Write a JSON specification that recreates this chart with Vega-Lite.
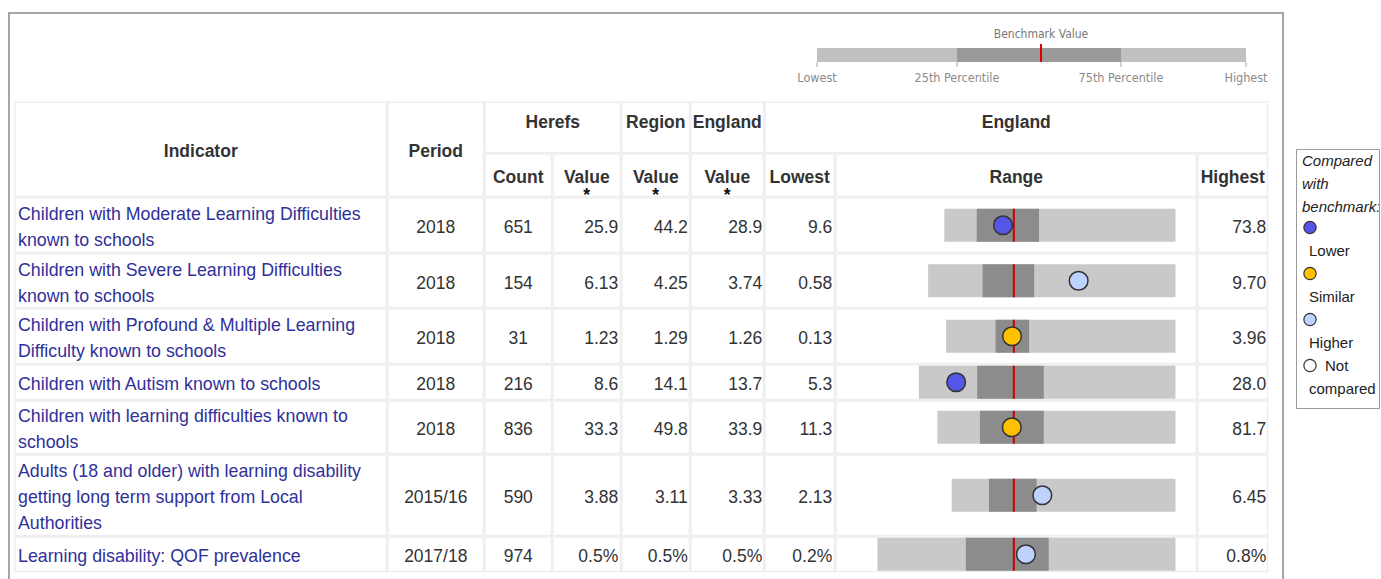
{
  "$schema": "https://vega.github.io/schema/vega-lite/v6.json",
  "padding": {"left": 8, "top": 12, "right": 0, "bottom": 0},
  "background": "white",
  "data": {"values": [{}]},
  "datasets": {
    "rows": [
      {"ind": 1, "name": ["Children with Moderate Learning Difficulties", "known to schools"], "period": "2018", "count": "651", "value": "25.9", "region": "44.2", "england": "28.9", "lowest": "9.6", "highest": "73.8", "cmp": "Lower", "lo": 9.6, "q25": 18.6, "eng": 28.9, "q75": 35.9, "hi": 73.8, "val": 25.9},
      {"ind": 2, "name": ["Children with Severe Learning Difficulties", "known to schools"], "period": "2018", "count": "154", "value": "6.13", "region": "4.25", "england": "3.74", "lowest": "0.58", "highest": "9.70", "cmp": "Higher", "lo": 0.58, "q25": 2.59, "eng": 3.74, "q75": 4.49, "hi": 9.7, "val": 6.13},
      {"ind": 3, "name": ["Children with Profound & Multiple Learning", "Difficulty known to schools"], "period": "2018", "count": "31", "value": "1.23", "region": "1.29", "england": "1.26", "lowest": "0.13", "highest": "3.96", "cmp": "Similar", "lo": 0.13, "q25": 0.955, "eng": 1.26, "q75": 1.515, "hi": 3.96, "val": 1.23},
      {"ind": 4, "name": ["Children with Autism known to schools"], "period": "2018", "count": "216", "value": "8.6", "region": "14.1", "england": "13.7", "lowest": "5.3", "highest": "28.0", "cmp": "Lower", "lo": 5.3, "q25": 10.46, "eng": 13.7, "q75": 16.35, "hi": 28.0, "val": 8.6},
      {"ind": 5, "name": ["Children with learning difficulties known to", "schools"], "period": "2018", "count": "836", "value": "33.3", "region": "49.8", "england": "33.9", "lowest": "11.3", "highest": "81.7", "cmp": "Similar", "lo": 11.3, "q25": 23.87, "eng": 33.9, "q75": 42.75, "hi": 81.7, "val": 33.3},
      {"ind": 6, "name": ["Adults (18 and older) with learning disability", "getting long term support from Local", "Authorities"], "period": "2015/16", "count": "590", "value": "3.88", "region": "3.11", "england": "3.33", "lowest": "2.13", "highest": "6.45", "cmp": "Higher", "lo": 2.13, "q25": 2.85, "eng": 3.33, "q75": 3.77, "hi": 6.45, "val": 3.88},
      {"ind": 7, "name": ["Learning disability: QOF prevalence"], "period": "2017/18", "count": "974", "value": "0.5%", "region": "0.5%", "england": "0.5%", "lowest": "0.2%", "highest": "0.8%", "cmp": "Higher", "lo": 0.21, "q25": 0.385, "eng": 0.48, "q75": 0.549, "hi": 0.8, "val": 0.504}
    ],
    "keyseg": [
      {"from": 0, "to": 25, "band": "outer"},
      {"from": 25, "to": 75, "band": "inner"},
      {"from": 75, "to": 100, "band": "outer"}
    ],
    "keylab": [
      {"p": 0, "label": "Lowest"},
      {"p": 25, "label": "25th Percentile"},
      {"p": 75, "label": "75th Percentile"},
      {"p": 100, "label": "Highest"}
    ],
    "keybench": [{"p": 50, "label": "Benchmark Value"}],
    "legend": [
      {"item": "Lower", "top": "", "bottom": "Lower"},
      {"item": "Similar", "top": "", "bottom": "Similar"},
      {"item": "Higher", "top": "", "bottom": "Higher"},
      {"item": "Not compared", "top": "Not", "bottom": "compared"}
    ]
  },
  "config": {
    "view": {"stroke": "#eeeeee", "strokeWidth": 1.5},
    "concat": {"spacing": 0},
    "font": "Liberation Sans",
    "text": {"font": "Liberation Sans", "fontSize": 17.5, "color": "#333333", "dy": 3}
  },
  "hconcat": [
    {"width": 2, "height": 567, "data": {"values": []}, "view": {"fill": "#a6a6a6", "stroke": null}, "mark": "point", "encoding": {}},
    {
      "vconcat": [
        {"width": 1272, "height": 2, "data": {"values": []}, "view": {"fill": "#a6a6a6", "stroke": null}, "mark": "point", "encoding": {}},
        {
          "width": 1272, "height": 86.5, "view": {"stroke": null},
          "layer": [
            {"data": {"name": "keyseg"}, "mark": {"type": "bar", "size": 14, "yOffset": -2.25},
             "encoding": {"x": {"field": "from", "type": "quantitative", "axis": null, "scale": {"domain": [0, 25, 50, 75, 100], "range": [807, 947, 1031, 1111, 1236]}}, "x2": {"field": "to"},
                          "color": {"field": "band", "type": "nominal", "scale": {"domain": ["outer", "inner"], "range": ["#c0c0c0", "#9a9a9a"]}, "legend": null}}},
            {"data": {"name": "keylab"}, "mark": {"type": "tick", "size": 5, "thickness": 1, "color": "#a8a8a8", "opacity": 1, "yOffset": 7.25},
             "encoding": {"x": {"field": "p", "type": "quantitative"}}},
            {"data": {"name": "keylab"}, "mark": {"type": "text", "dy": 20.5, "color": "#8a8a8a", "font": "DejaVu Sans Condensed", "fontSize": 12.5},
             "encoding": {"x": {"field": "p", "type": "quantitative"}, "text": {"field": "label", "type": "nominal"}}},
            {"data": {"name": "keybench"}, "mark": {"type": "tick", "size": 18, "thickness": 2, "color": "#e00000", "opacity": 1, "yOffset": -4.25},
             "encoding": {"x": {"field": "p", "type": "quantitative"}}},
            {"data": {"name": "keybench"}, "mark": {"type": "text", "dy": -23.5, "color": "#777777", "font": "DejaVu Sans Condensed", "fontSize": 12},
             "encoding": {"x": {"field": "p", "type": "quantitative"}, "text": {"field": "label", "type": "nominal"}}}
          ]
        },
        {
          "spacing": -1.5,
          "vconcat": [
            {
              "spacing": -1.5,
              "hconcat": [
                {"width": 5, "height": 96, "data": {"values": []}, "view": {"stroke": null}, "mark": "point", "encoding": {}},
                {"width": 371.5, "height": 94.5, "layer": [{"mark": {"type": "text", "fontWeight": "bold"}, "encoding": {"y": {"datum": "h", "type": "nominal", "axis": null}, "text": {"value": "Indicator"}}}]},
                {"width": 95.5, "height": 94.5, "layer": [{"mark": {"type": "text", "fontWeight": "bold"}, "encoding": {"y": {"datum": "h", "type": "nominal", "axis": null}, "text": {"value": "Period"}}}]},
                {"spacing": -1.5, "vconcat": [
                  {"width": 135.5, "height": 50.5, "layer": [{"mark": {"type": "text", "fontWeight": "bold", "dy": -4}, "encoding": {"y": {"datum": "h", "type": "nominal", "axis": null}, "text": {"value": "Herefs"}}}]},
                  {"spacing": -1.5, "hconcat": [
                    {"width": 66.5, "height": 42.5, "layer": [{"mark": {"type": "text", "fontWeight": "bold"}, "encoding": {"y": {"datum": "h", "type": "nominal", "axis": null}, "text": {"value": "Count"}}}]},
                    {"width": 67.5, "height": 42.5, "layer": [
                      {"mark": {"type": "text", "fontWeight": "bold"}, "encoding": {"y": {"datum": "h", "type": "nominal", "axis": null}, "text": {"value": "Value"}}},
                      {"mark": {"type": "text", "fontWeight": "bold", "color": "#111111", "dy": 21, "clip": true}, "encoding": {"y": {"datum": "h", "type": "nominal", "axis": null}, "text": {"value": "*"}}}
                    ]}
                  ]}
                ]},
                {"spacing": -1.5, "vconcat": [
                  {"width": 67.5, "height": 50.5, "layer": [{"mark": {"type": "text", "fontWeight": "bold", "dy": -4}, "encoding": {"y": {"datum": "h", "type": "nominal", "axis": null}, "text": {"value": "Region"}}}]},
                  {"width": 67.5, "height": 42.5, "layer": [
                    {"mark": {"type": "text", "fontWeight": "bold"}, "encoding": {"y": {"datum": "h", "type": "nominal", "axis": null}, "text": {"value": "Value"}}},
                    {"mark": {"type": "text", "fontWeight": "bold", "color": "#111111", "dy": 21, "clip": true}, "encoding": {"y": {"datum": "h", "type": "nominal", "axis": null}, "text": {"value": "*"}}}
                  ]}
                ]},
                {"spacing": -1.5, "vconcat": [
                  {"width": 72.5, "height": 50.5, "layer": [{"mark": {"type": "text", "fontWeight": "bold", "dy": -4}, "encoding": {"y": {"datum": "h", "type": "nominal", "axis": null}, "text": {"value": "England"}}}]},
                  {"width": 72.5, "height": 42.5, "layer": [
                    {"mark": {"type": "text", "fontWeight": "bold"}, "encoding": {"y": {"datum": "h", "type": "nominal", "axis": null}, "text": {"value": "Value"}}},
                    {"mark": {"type": "text", "fontWeight": "bold", "color": "#111111", "dy": 21, "clip": true}, "encoding": {"y": {"datum": "h", "type": "nominal", "axis": null}, "text": {"value": "*"}}}
                  ]}
                ]},
                {"spacing": -1.5, "vconcat": [
                  {"width": 502.5, "height": 50.5, "layer": [{"mark": {"type": "text", "fontWeight": "bold", "dy": -4}, "encoding": {"y": {"datum": "h", "type": "nominal", "axis": null}, "text": {"value": "England"}}}]},
                  {"spacing": -1.5, "hconcat": [
                    {"width": 69.5, "height": 42.5, "layer": [{"mark": {"type": "text", "fontWeight": "bold"}, "encoding": {"y": {"datum": "h", "type": "nominal", "axis": null}, "text": {"value": "Lowest"}}}]},
                    {"width": 360.5, "height": 42.5, "layer": [{"mark": {"type": "text", "fontWeight": "bold"}, "encoding": {"y": {"datum": "h", "type": "nominal", "axis": null}, "text": {"value": "Range"}}}]},
                    {"width": 69.5, "height": 42.5, "layer": [{"mark": {"type": "text", "fontWeight": "bold"}, "encoding": {"y": {"datum": "h", "type": "nominal", "axis": null}, "text": {"value": "Highest"}}}]}
                  ]}
                ]}
              ]
            },
            {
              "spacing": -1.5,
              "hconcat": [
                {"width": 5, "height": 375, "data": {"values": []}, "view": {"stroke": null}, "mark": "point", "encoding": {}},
                {
                  "data": {"name": "rows"},
                  "transform": [
                    {"calculate": "max(datum.hi - datum.eng, datum.eng - datum.lo)", "as": "h"},
                    {"calculate": "(datum.lo - datum.eng) / datum.h", "as": "nlo"},
                    {"calculate": "(datum.q25 - datum.eng) / datum.h", "as": "nq25"},
                    {"calculate": "(datum.q75 - datum.eng) / datum.h", "as": "nq75"},
                    {"calculate": "(datum.hi - datum.eng) / datum.h", "as": "nhi"},
                    {"calculate": "(datum.val - datum.eng) / datum.h", "as": "nval"}
                  ],
                  "spacing": -1.5,
                  "vconcat": [
                    {"transform": [{"filter": "datum.ind == 1"}], "spacing": -1.5, "hconcat": [
                      {"width": 371.5, "height": 54.5, "layer": [{"mark": {"type": "text", "align": "left", "dx": -182.75, "dy": -10, "lineHeight": 26, "lineBreak": "\n", "fontSize": 17.8, "color": "#30309a", "clip": true}, "encoding": {"y": {"field": "ind", "type": "nominal", "axis": null}, "text": {"field": "name", "type": "nominal"}}}]},
                      {"width": 95.5, "height": 54.5, "layer": [{"mark": {"type": "text"}, "encoding": {"y": {"field": "ind", "type": "nominal", "axis": null}, "text": {"field": "period", "type": "nominal"}}}]},
                      {"width": 66.5, "height": 54.5, "layer": [{"mark": {"type": "text"}, "encoding": {"y": {"field": "ind", "type": "nominal", "axis": null}, "text": {"field": "count", "type": "nominal"}}}]},
                      {"width": 67.5, "height": 54.5, "layer": [{"mark": {"type": "text", "align": "right", "dx": 31.5}, "encoding": {"y": {"field": "ind", "type": "nominal", "axis": null}, "text": {"field": "value", "type": "nominal"}}}]},
                      {"width": 67.5, "height": 54.5, "layer": [{"mark": {"type": "text", "align": "right", "dx": 32}, "encoding": {"y": {"field": "ind", "type": "nominal", "axis": null}, "text": {"field": "region", "type": "nominal"}}}]},
                      {"width": 72.5, "height": 54.5, "layer": [{"mark": {"type": "text", "align": "right", "dx": 35}, "encoding": {"y": {"field": "ind", "type": "nominal", "axis": null}, "text": {"field": "england", "type": "nominal"}}}]},
                      {"width": 69.5, "height": 54.5, "layer": [{"mark": {"type": "text", "align": "right", "dx": 32.5}, "encoding": {"y": {"field": "ind", "type": "nominal", "axis": null}, "text": {"field": "lowest", "type": "nominal"}}}]},
                      {"width": 360.5, "height": 54.5, "layer": [
                        {"mark": {"type": "bar", "size": 33, "color": "#c9c9c9"}, "encoding": {"x": {"field": "nlo", "type": "quantitative", "axis": null, "scale": {"domain": [-1.1, 1.13]}}, "x2": {"field": "nhi"}}},
                        {"mark": {"type": "bar", "size": 33, "color": "#8c8c8c"}, "encoding": {"x": {"field": "nq25", "type": "quantitative", "axis": null, "scale": {"domain": [-1.1, 1.13]}}, "x2": {"field": "nq75"}}},
                        {"mark": {"type": "tick", "size": 33, "thickness": 2, "color": "#cc0000", "opacity": 1}, "encoding": {"x": {"datum": 0, "type": "quantitative", "axis": null, "scale": {"domain": [-1.1, 1.13]}}}},
                        {"mark": {"type": "point", "filled": true, "size": 350, "stroke": "#333333", "strokeWidth": 1.5, "opacity": 1}, "encoding": {"x": {"field": "nval", "type": "quantitative", "axis": null, "scale": {"domain": [-1.1, 1.13]}}, "fill": {"field": "cmp", "type": "nominal", "scale": {"domain": ["Lower", "Similar", "Higher", "Not compared"], "range": ["#5555e6", "#ffc000", "#bed2ff", "#ffffff"]}, "legend": null}}}
                      ]},
                      {"width": 69.5, "height": 54.5, "layer": [{"mark": {"type": "text", "align": "right", "dx": 33.5}, "encoding": {"y": {"field": "ind", "type": "nominal", "axis": null}, "text": {"field": "highest", "type": "nominal"}}}]}
                    ]},
                    {"transform": [{"filter": "datum.ind == 2"}], "spacing": -1.5, "hconcat": [
                      {"width": 371.5, "height": 53.5, "layer": [{"mark": {"type": "text", "align": "left", "dx": -182.75, "dy": -10, "lineHeight": 26, "lineBreak": "\n", "fontSize": 17.8, "color": "#30309a", "clip": true}, "encoding": {"y": {"field": "ind", "type": "nominal", "axis": null}, "text": {"field": "name", "type": "nominal"}}}]},
                      {"width": 95.5, "height": 53.5, "layer": [{"mark": {"type": "text"}, "encoding": {"y": {"field": "ind", "type": "nominal", "axis": null}, "text": {"field": "period", "type": "nominal"}}}]},
                      {"width": 66.5, "height": 53.5, "layer": [{"mark": {"type": "text"}, "encoding": {"y": {"field": "ind", "type": "nominal", "axis": null}, "text": {"field": "count", "type": "nominal"}}}]},
                      {"width": 67.5, "height": 53.5, "layer": [{"mark": {"type": "text", "align": "right", "dx": 31.5}, "encoding": {"y": {"field": "ind", "type": "nominal", "axis": null}, "text": {"field": "value", "type": "nominal"}}}]},
                      {"width": 67.5, "height": 53.5, "layer": [{"mark": {"type": "text", "align": "right", "dx": 32}, "encoding": {"y": {"field": "ind", "type": "nominal", "axis": null}, "text": {"field": "region", "type": "nominal"}}}]},
                      {"width": 72.5, "height": 53.5, "layer": [{"mark": {"type": "text", "align": "right", "dx": 35}, "encoding": {"y": {"field": "ind", "type": "nominal", "axis": null}, "text": {"field": "england", "type": "nominal"}}}]},
                      {"width": 69.5, "height": 53.5, "layer": [{"mark": {"type": "text", "align": "right", "dx": 32.5}, "encoding": {"y": {"field": "ind", "type": "nominal", "axis": null}, "text": {"field": "lowest", "type": "nominal"}}}]},
                      {"width": 360.5, "height": 53.5, "layer": [
                        {"mark": {"type": "bar", "size": 33, "color": "#c9c9c9"}, "encoding": {"x": {"field": "nlo", "type": "quantitative", "axis": null, "scale": {"domain": [-1.1, 1.13]}}, "x2": {"field": "nhi"}}},
                        {"mark": {"type": "bar", "size": 33, "color": "#8c8c8c"}, "encoding": {"x": {"field": "nq25", "type": "quantitative", "axis": null, "scale": {"domain": [-1.1, 1.13]}}, "x2": {"field": "nq75"}}},
                        {"mark": {"type": "tick", "size": 33, "thickness": 2, "color": "#cc0000", "opacity": 1}, "encoding": {"x": {"datum": 0, "type": "quantitative", "axis": null, "scale": {"domain": [-1.1, 1.13]}}}},
                        {"mark": {"type": "point", "filled": true, "size": 350, "stroke": "#333333", "strokeWidth": 1.5, "opacity": 1}, "encoding": {"x": {"field": "nval", "type": "quantitative", "axis": null, "scale": {"domain": [-1.1, 1.13]}}, "fill": {"field": "cmp", "type": "nominal", "scale": {"domain": ["Lower", "Similar", "Higher", "Not compared"], "range": ["#5555e6", "#ffc000", "#bed2ff", "#ffffff"]}, "legend": null}}}
                      ]},
                      {"width": 69.5, "height": 53.5, "layer": [{"mark": {"type": "text", "align": "right", "dx": 33.5}, "encoding": {"y": {"field": "ind", "type": "nominal", "axis": null}, "text": {"field": "highest", "type": "nominal"}}}]}
                    ]},
                    {"transform": [{"filter": "datum.ind == 3"}], "spacing": -1.5, "hconcat": [
                      {"width": 371.5, "height": 54.5, "layer": [{"mark": {"type": "text", "align": "left", "dx": -182.75, "dy": -10, "lineHeight": 26, "lineBreak": "\n", "fontSize": 17.8, "color": "#30309a", "clip": true}, "encoding": {"y": {"field": "ind", "type": "nominal", "axis": null}, "text": {"field": "name", "type": "nominal"}}}]},
                      {"width": 95.5, "height": 54.5, "layer": [{"mark": {"type": "text"}, "encoding": {"y": {"field": "ind", "type": "nominal", "axis": null}, "text": {"field": "period", "type": "nominal"}}}]},
                      {"width": 66.5, "height": 54.5, "layer": [{"mark": {"type": "text"}, "encoding": {"y": {"field": "ind", "type": "nominal", "axis": null}, "text": {"field": "count", "type": "nominal"}}}]},
                      {"width": 67.5, "height": 54.5, "layer": [{"mark": {"type": "text", "align": "right", "dx": 31.5}, "encoding": {"y": {"field": "ind", "type": "nominal", "axis": null}, "text": {"field": "value", "type": "nominal"}}}]},
                      {"width": 67.5, "height": 54.5, "layer": [{"mark": {"type": "text", "align": "right", "dx": 32}, "encoding": {"y": {"field": "ind", "type": "nominal", "axis": null}, "text": {"field": "region", "type": "nominal"}}}]},
                      {"width": 72.5, "height": 54.5, "layer": [{"mark": {"type": "text", "align": "right", "dx": 35}, "encoding": {"y": {"field": "ind", "type": "nominal", "axis": null}, "text": {"field": "england", "type": "nominal"}}}]},
                      {"width": 69.5, "height": 54.5, "layer": [{"mark": {"type": "text", "align": "right", "dx": 32.5}, "encoding": {"y": {"field": "ind", "type": "nominal", "axis": null}, "text": {"field": "lowest", "type": "nominal"}}}]},
                      {"width": 360.5, "height": 54.5, "layer": [
                        {"mark": {"type": "bar", "size": 33, "color": "#c9c9c9"}, "encoding": {"x": {"field": "nlo", "type": "quantitative", "axis": null, "scale": {"domain": [-1.1, 1.13]}}, "x2": {"field": "nhi"}}},
                        {"mark": {"type": "bar", "size": 33, "color": "#8c8c8c"}, "encoding": {"x": {"field": "nq25", "type": "quantitative", "axis": null, "scale": {"domain": [-1.1, 1.13]}}, "x2": {"field": "nq75"}}},
                        {"mark": {"type": "tick", "size": 33, "thickness": 2, "color": "#cc0000", "opacity": 1}, "encoding": {"x": {"datum": 0, "type": "quantitative", "axis": null, "scale": {"domain": [-1.1, 1.13]}}}},
                        {"mark": {"type": "point", "filled": true, "size": 350, "stroke": "#333333", "strokeWidth": 1.5, "opacity": 1}, "encoding": {"x": {"field": "nval", "type": "quantitative", "axis": null, "scale": {"domain": [-1.1, 1.13]}}, "fill": {"field": "cmp", "type": "nominal", "scale": {"domain": ["Lower", "Similar", "Higher", "Not compared"], "range": ["#5555e6", "#ffc000", "#bed2ff", "#ffffff"]}, "legend": null}}}
                      ]},
                      {"width": 69.5, "height": 54.5, "layer": [{"mark": {"type": "text", "align": "right", "dx": 33.5}, "encoding": {"y": {"field": "ind", "type": "nominal", "axis": null}, "text": {"field": "highest", "type": "nominal"}}}]}
                    ]},
                    {"transform": [{"filter": "datum.ind == 4"}], "spacing": -1.5, "hconcat": [
                      {"width": 371.5, "height": 34.5, "layer": [{"mark": {"type": "text", "align": "left", "dx": -182.75, "lineHeight": 26, "lineBreak": "\n", "fontSize": 17.8, "color": "#30309a", "clip": true}, "encoding": {"y": {"field": "ind", "type": "nominal", "axis": null}, "text": {"field": "name", "type": "nominal"}}}]},
                      {"width": 95.5, "height": 34.5, "layer": [{"mark": {"type": "text"}, "encoding": {"y": {"field": "ind", "type": "nominal", "axis": null}, "text": {"field": "period", "type": "nominal"}}}]},
                      {"width": 66.5, "height": 34.5, "layer": [{"mark": {"type": "text"}, "encoding": {"y": {"field": "ind", "type": "nominal", "axis": null}, "text": {"field": "count", "type": "nominal"}}}]},
                      {"width": 67.5, "height": 34.5, "layer": [{"mark": {"type": "text", "align": "right", "dx": 31.5}, "encoding": {"y": {"field": "ind", "type": "nominal", "axis": null}, "text": {"field": "value", "type": "nominal"}}}]},
                      {"width": 67.5, "height": 34.5, "layer": [{"mark": {"type": "text", "align": "right", "dx": 32}, "encoding": {"y": {"field": "ind", "type": "nominal", "axis": null}, "text": {"field": "region", "type": "nominal"}}}]},
                      {"width": 72.5, "height": 34.5, "layer": [{"mark": {"type": "text", "align": "right", "dx": 35}, "encoding": {"y": {"field": "ind", "type": "nominal", "axis": null}, "text": {"field": "england", "type": "nominal"}}}]},
                      {"width": 69.5, "height": 34.5, "layer": [{"mark": {"type": "text", "align": "right", "dx": 32.5}, "encoding": {"y": {"field": "ind", "type": "nominal", "axis": null}, "text": {"field": "lowest", "type": "nominal"}}}]},
                      {"width": 360.5, "height": 34.5, "layer": [
                        {"mark": {"type": "bar", "size": 33, "color": "#c9c9c9"}, "encoding": {"x": {"field": "nlo", "type": "quantitative", "axis": null, "scale": {"domain": [-1.1, 1.13]}}, "x2": {"field": "nhi"}}},
                        {"mark": {"type": "bar", "size": 33, "color": "#8c8c8c"}, "encoding": {"x": {"field": "nq25", "type": "quantitative", "axis": null, "scale": {"domain": [-1.1, 1.13]}}, "x2": {"field": "nq75"}}},
                        {"mark": {"type": "tick", "size": 33, "thickness": 2, "color": "#cc0000", "opacity": 1}, "encoding": {"x": {"datum": 0, "type": "quantitative", "axis": null, "scale": {"domain": [-1.1, 1.13]}}}},
                        {"mark": {"type": "point", "filled": true, "size": 350, "stroke": "#333333", "strokeWidth": 1.5, "opacity": 1}, "encoding": {"x": {"field": "nval", "type": "quantitative", "axis": null, "scale": {"domain": [-1.1, 1.13]}}, "fill": {"field": "cmp", "type": "nominal", "scale": {"domain": ["Lower", "Similar", "Higher", "Not compared"], "range": ["#5555e6", "#ffc000", "#bed2ff", "#ffffff"]}, "legend": null}}}
                      ]},
                      {"width": 69.5, "height": 34.5, "layer": [{"mark": {"type": "text", "align": "right", "dx": 33.5}, "encoding": {"y": {"field": "ind", "type": "nominal", "axis": null}, "text": {"field": "highest", "type": "nominal"}}}]}
                    ]},
                    {"transform": [{"filter": "datum.ind == 5"}], "spacing": -1.5, "hconcat": [
                      {"width": 371.5, "height": 52.5, "layer": [{"mark": {"type": "text", "align": "left", "dx": -182.75, "dy": -10, "lineHeight": 26, "lineBreak": "\n", "fontSize": 17.8, "color": "#30309a", "clip": true}, "encoding": {"y": {"field": "ind", "type": "nominal", "axis": null}, "text": {"field": "name", "type": "nominal"}}}]},
                      {"width": 95.5, "height": 52.5, "layer": [{"mark": {"type": "text"}, "encoding": {"y": {"field": "ind", "type": "nominal", "axis": null}, "text": {"field": "period", "type": "nominal"}}}]},
                      {"width": 66.5, "height": 52.5, "layer": [{"mark": {"type": "text"}, "encoding": {"y": {"field": "ind", "type": "nominal", "axis": null}, "text": {"field": "count", "type": "nominal"}}}]},
                      {"width": 67.5, "height": 52.5, "layer": [{"mark": {"type": "text", "align": "right", "dx": 31.5}, "encoding": {"y": {"field": "ind", "type": "nominal", "axis": null}, "text": {"field": "value", "type": "nominal"}}}]},
                      {"width": 67.5, "height": 52.5, "layer": [{"mark": {"type": "text", "align": "right", "dx": 32}, "encoding": {"y": {"field": "ind", "type": "nominal", "axis": null}, "text": {"field": "region", "type": "nominal"}}}]},
                      {"width": 72.5, "height": 52.5, "layer": [{"mark": {"type": "text", "align": "right", "dx": 35}, "encoding": {"y": {"field": "ind", "type": "nominal", "axis": null}, "text": {"field": "england", "type": "nominal"}}}]},
                      {"width": 69.5, "height": 52.5, "layer": [{"mark": {"type": "text", "align": "right", "dx": 32.5}, "encoding": {"y": {"field": "ind", "type": "nominal", "axis": null}, "text": {"field": "lowest", "type": "nominal"}}}]},
                      {"width": 360.5, "height": 52.5, "layer": [
                        {"mark": {"type": "bar", "size": 33, "color": "#c9c9c9"}, "encoding": {"x": {"field": "nlo", "type": "quantitative", "axis": null, "scale": {"domain": [-1.1, 1.13]}}, "x2": {"field": "nhi"}}},
                        {"mark": {"type": "bar", "size": 33, "color": "#8c8c8c"}, "encoding": {"x": {"field": "nq25", "type": "quantitative", "axis": null, "scale": {"domain": [-1.1, 1.13]}}, "x2": {"field": "nq75"}}},
                        {"mark": {"type": "tick", "size": 33, "thickness": 2, "color": "#cc0000", "opacity": 1}, "encoding": {"x": {"datum": 0, "type": "quantitative", "axis": null, "scale": {"domain": [-1.1, 1.13]}}}},
                        {"mark": {"type": "point", "filled": true, "size": 350, "stroke": "#333333", "strokeWidth": 1.5, "opacity": 1}, "encoding": {"x": {"field": "nval", "type": "quantitative", "axis": null, "scale": {"domain": [-1.1, 1.13]}}, "fill": {"field": "cmp", "type": "nominal", "scale": {"domain": ["Lower", "Similar", "Higher", "Not compared"], "range": ["#5555e6", "#ffc000", "#bed2ff", "#ffffff"]}, "legend": null}}}
                      ]},
                      {"width": 69.5, "height": 52.5, "layer": [{"mark": {"type": "text", "align": "right", "dx": 33.5}, "encoding": {"y": {"field": "ind", "type": "nominal", "axis": null}, "text": {"field": "highest", "type": "nominal"}}}]}
                    ]},
                    {"transform": [{"filter": "datum.ind == 6"}], "spacing": -1.5, "hconcat": [
                      {"width": 371.5, "height": 80.5, "layer": [{"mark": {"type": "text", "align": "left", "dx": -182.75, "dy": -23, "lineHeight": 26, "lineBreak": "\n", "fontSize": 17.8, "color": "#30309a", "clip": true}, "encoding": {"y": {"field": "ind", "type": "nominal", "axis": null}, "text": {"field": "name", "type": "nominal"}}}]},
                      {"width": 95.5, "height": 80.5, "layer": [{"mark": {"type": "text"}, "encoding": {"y": {"field": "ind", "type": "nominal", "axis": null}, "text": {"field": "period", "type": "nominal"}}}]},
                      {"width": 66.5, "height": 80.5, "layer": [{"mark": {"type": "text"}, "encoding": {"y": {"field": "ind", "type": "nominal", "axis": null}, "text": {"field": "count", "type": "nominal"}}}]},
                      {"width": 67.5, "height": 80.5, "layer": [{"mark": {"type": "text", "align": "right", "dx": 31.5}, "encoding": {"y": {"field": "ind", "type": "nominal", "axis": null}, "text": {"field": "value", "type": "nominal"}}}]},
                      {"width": 67.5, "height": 80.5, "layer": [{"mark": {"type": "text", "align": "right", "dx": 32}, "encoding": {"y": {"field": "ind", "type": "nominal", "axis": null}, "text": {"field": "region", "type": "nominal"}}}]},
                      {"width": 72.5, "height": 80.5, "layer": [{"mark": {"type": "text", "align": "right", "dx": 35}, "encoding": {"y": {"field": "ind", "type": "nominal", "axis": null}, "text": {"field": "england", "type": "nominal"}}}]},
                      {"width": 69.5, "height": 80.5, "layer": [{"mark": {"type": "text", "align": "right", "dx": 32.5}, "encoding": {"y": {"field": "ind", "type": "nominal", "axis": null}, "text": {"field": "lowest", "type": "nominal"}}}]},
                      {"width": 360.5, "height": 80.5, "layer": [
                        {"mark": {"type": "bar", "size": 33, "color": "#c9c9c9"}, "encoding": {"x": {"field": "nlo", "type": "quantitative", "axis": null, "scale": {"domain": [-1.1, 1.13]}}, "x2": {"field": "nhi"}}},
                        {"mark": {"type": "bar", "size": 33, "color": "#8c8c8c"}, "encoding": {"x": {"field": "nq25", "type": "quantitative", "axis": null, "scale": {"domain": [-1.1, 1.13]}}, "x2": {"field": "nq75"}}},
                        {"mark": {"type": "tick", "size": 33, "thickness": 2, "color": "#cc0000", "opacity": 1}, "encoding": {"x": {"datum": 0, "type": "quantitative", "axis": null, "scale": {"domain": [-1.1, 1.13]}}}},
                        {"mark": {"type": "point", "filled": true, "size": 350, "stroke": "#333333", "strokeWidth": 1.5, "opacity": 1}, "encoding": {"x": {"field": "nval", "type": "quantitative", "axis": null, "scale": {"domain": [-1.1, 1.13]}}, "fill": {"field": "cmp", "type": "nominal", "scale": {"domain": ["Lower", "Similar", "Higher", "Not compared"], "range": ["#5555e6", "#ffc000", "#bed2ff", "#ffffff"]}, "legend": null}}}
                      ]},
                      {"width": 69.5, "height": 80.5, "layer": [{"mark": {"type": "text", "align": "right", "dx": 33.5}, "encoding": {"y": {"field": "ind", "type": "nominal", "axis": null}, "text": {"field": "highest", "type": "nominal"}}}]}
                    ]},
                    {"transform": [{"filter": "datum.ind == 7"}], "spacing": -1.5, "hconcat": [
                      {"width": 371.5, "height": 34.5, "layer": [{"mark": {"type": "text", "align": "left", "dx": -182.75, "lineHeight": 26, "lineBreak": "\n", "fontSize": 17.8, "color": "#30309a", "clip": true}, "encoding": {"y": {"field": "ind", "type": "nominal", "axis": null}, "text": {"field": "name", "type": "nominal"}}}]},
                      {"width": 95.5, "height": 34.5, "layer": [{"mark": {"type": "text"}, "encoding": {"y": {"field": "ind", "type": "nominal", "axis": null}, "text": {"field": "period", "type": "nominal"}}}]},
                      {"width": 66.5, "height": 34.5, "layer": [{"mark": {"type": "text"}, "encoding": {"y": {"field": "ind", "type": "nominal", "axis": null}, "text": {"field": "count", "type": "nominal"}}}]},
                      {"width": 67.5, "height": 34.5, "layer": [{"mark": {"type": "text", "align": "right", "dx": 31.5}, "encoding": {"y": {"field": "ind", "type": "nominal", "axis": null}, "text": {"field": "value", "type": "nominal"}}}]},
                      {"width": 67.5, "height": 34.5, "layer": [{"mark": {"type": "text", "align": "right", "dx": 32}, "encoding": {"y": {"field": "ind", "type": "nominal", "axis": null}, "text": {"field": "region", "type": "nominal"}}}]},
                      {"width": 72.5, "height": 34.5, "layer": [{"mark": {"type": "text", "align": "right", "dx": 35}, "encoding": {"y": {"field": "ind", "type": "nominal", "axis": null}, "text": {"field": "england", "type": "nominal"}}}]},
                      {"width": 69.5, "height": 34.5, "layer": [{"mark": {"type": "text", "align": "right", "dx": 32.5}, "encoding": {"y": {"field": "ind", "type": "nominal", "axis": null}, "text": {"field": "lowest", "type": "nominal"}}}]},
                      {"width": 360.5, "height": 34.5, "layer": [
                        {"mark": {"type": "bar", "size": 33, "color": "#c9c9c9"}, "encoding": {"x": {"field": "nlo", "type": "quantitative", "axis": null, "scale": {"domain": [-1.1, 1.13]}}, "x2": {"field": "nhi"}}},
                        {"mark": {"type": "bar", "size": 33, "color": "#8c8c8c"}, "encoding": {"x": {"field": "nq25", "type": "quantitative", "axis": null, "scale": {"domain": [-1.1, 1.13]}}, "x2": {"field": "nq75"}}},
                        {"mark": {"type": "tick", "size": 33, "thickness": 2, "color": "#cc0000", "opacity": 1}, "encoding": {"x": {"datum": 0, "type": "quantitative", "axis": null, "scale": {"domain": [-1.1, 1.13]}}}},
                        {"mark": {"type": "point", "filled": true, "size": 350, "stroke": "#333333", "strokeWidth": 1.5, "opacity": 1}, "encoding": {"x": {"field": "nval", "type": "quantitative", "axis": null, "scale": {"domain": [-1.1, 1.13]}}, "fill": {"field": "cmp", "type": "nominal", "scale": {"domain": ["Lower", "Similar", "Higher", "Not compared"], "range": ["#5555e6", "#ffc000", "#bed2ff", "#ffffff"]}, "legend": null}}}
                      ]},
                      {"width": 69.5, "height": 34.5, "layer": [{"mark": {"type": "text", "align": "right", "dx": 33.5}, "encoding": {"y": {"field": "ind", "type": "nominal", "axis": null}, "text": {"field": "highest", "type": "nominal"}}}]}
                    ]}
                  ]
                }
              ]
            }
          ]
        },
        {"width": 1272, "height": 6, "data": {"values": []}, "view": {"stroke": null}, "mark": "point", "encoding": {}}
      ]
    },
    {"width": 2, "height": 567, "data": {"values": []}, "view": {"fill": "#a6a6a6", "stroke": null}, "mark": "point", "encoding": {}},
    {"width": 11, "height": 567, "data": {"values": []}, "view": {"stroke": null}, "mark": "point", "encoding": {}},
    {
      "vconcat": [
        {"width": 83, "height": 135.5, "data": {"values": []}, "view": {"stroke": null}, "mark": "point", "encoding": {}},
        {
          "width": 83, "height": 259, "view": {"stroke": "#9a9a9a", "strokeWidth": 1},
          "layer": [
            {"mark": {"type": "text", "align": "left", "dx": -35.5, "dy": -118, "fontStyle": "italic", "fontSize": 15, "lineHeight": 23, "color": "#222222", "clip": true}, "encoding": {"text": {"value": ["Compared", "with", "benchmark:"]}}},
            {"data": {"name": "legend"}, "mark": {"type": "point", "filled": true, "size": 150, "stroke": "#333333", "strokeWidth": 1.2, "opacity": 1, "xOffset": -27.5, "yOffset": -11.5},
             "encoding": {"y": {"field": "item", "type": "nominal", "sort": null, "axis": null, "scale": {"type": "band", "range": [67, 251], "paddingInner": 0, "paddingOuter": 0}},
                          "fill": {"field": "item", "type": "nominal", "scale": {"domain": ["Lower", "Similar", "Higher", "Not compared"], "range": ["#5555e6", "#ffc000", "#bed2ff", "#ffffff"]}, "legend": null}}},
            {"data": {"name": "legend"}, "mark": {"type": "text", "align": "left", "dx": -12.5, "dy": -11.5, "fontSize": 15, "color": "#222222", "clip": true},
             "encoding": {"y": {"field": "item", "type": "nominal", "sort": null}, "text": {"field": "top", "type": "nominal"}}},
            {"data": {"name": "legend"}, "mark": {"type": "text", "align": "left", "dx": -28.5, "dy": 11.5, "fontSize": 15, "color": "#222222", "clip": true},
             "encoding": {"y": {"field": "item", "type": "nominal", "sort": null}, "text": {"field": "bottom", "type": "nominal"}}}
          ]
        }
      ]
    }
  ]
}
